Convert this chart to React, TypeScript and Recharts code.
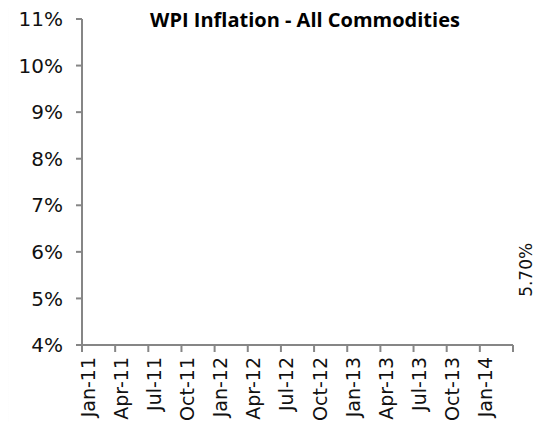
import React from "react";
import { LabelList, Line, LineChart, XAxis, YAxis } from "recharts";

const title = "WPI Inflation - All Commodities";
const monthNames = ["Jan", "Feb", "Mar", "Apr", "May", "Jun", "Jul", "Aug", "Sep", "Oct", "Nov", "Dec"];
const tickLabels = ["Jan-11", "Apr-11", "Jul-11", "Oct-11", "Jan-12", "Apr-12", "Jul-12", "Oct-12", "Jan-13", "Apr-13", "Jul-13", "Oct-13", "Jan-14"];
const pointMonths = ["Mar-14"];
const wpiValues = [5.7];
const yTicks = [4, 5, 6, 7, 8, 9, 10, 11];

const W = 546;
const H = 430;
const M = { top: 19, right: 33, bottom: 0, left: 0 };
const Y_AXIS_W = 82;
const X_AXIS_H = 85;
const MONTHS = 39;
const AXIS = "#868686";
const FONT = "'DejaVu Sans', sans-serif";

// month index counted from Jan-11
const monthIndex = (label: string) => {
  const [m, y] = label.split("-");
  return (Number(y) - 11) * 12 + monthNames.indexOf(m);
};

const data = pointMonths.map((m, i) => ({ x: monthIndex(m) + 0.5, wpi: wpiValues[i] }));
const xTicks = [...tickLabels.map(monthIndex), MONTHS];
const halfMonth = (W - M.right - Y_AXIS_W) / MONTHS / 2;

function MonthTick(props: any) {
  const { x, y, payload } = props;
  const idx = xTicks.indexOf(payload.value);
  if (idx < 0 || idx >= tickLabels.length) return null;
  const cx = x + halfMonth;
  return (
    <text
      x={cx}
      y={y}
      transform={`rotate(-90, ${cx}, ${y})`}
      textAnchor="end"
      dominantBaseline="central"
      fill="#111"
      fontSize={19}
      fontFamily={FONT}
    >
      {tickLabels[idx]}
    </text>
  );
}

function ValueLabel(props: any) {
  const { x, y, value } = props;
  const cx = x + 19;
  const cy = y + 4;
  return (
    <text
      x={cx}
      y={cy}
      transform={`rotate(-90, ${cx}, ${cy})`}
      textAnchor="middle"
      dominantBaseline="central"
      fill="#111"
      fontSize={17}
      fontFamily={FONT}
    >
      {`${Number(value).toFixed(2)}%`}
    </text>
  );
}

export default function App() {
  return (
    <div
      style={{
        position: "relative",
        width: W,
        height: H,
        margin: -8,
        overflow: "hidden",
        background: "linear-gradient(to right, #e4e4e4 0px, #f4f4f4 5px, #ffffff 9px)",
      }}
    >
      <div
        style={{
          position: "absolute",
          top: 6,
          left: 0,
          width: 610,
          textAlign: "center",
          fontFamily: "'Open Sans', sans-serif",
          fontWeight: 700,
          fontSize: 20,
          color: "#000",
        }}
      >
        {title}
      </div>
      <LineChart width={W} height={H} data={data} margin={M}>
        <XAxis
          dataKey="x"
          type="number"
          domain={[0, MONTHS]}
          ticks={xTicks}
          interval={0}
          height={X_AXIS_H}
          axisLine={{ stroke: AXIS, strokeWidth: 2 }}
          tickLine={{ stroke: AXIS, strokeWidth: 2 }}
          tickSize={7}
          tickMargin={5}
          tick={<MonthTick />}
        />
        <YAxis
          type="number"
          domain={[4, 11]}
          ticks={yTicks}
          interval={0}
          width={Y_AXIS_W}
          axisLine={{ stroke: AXIS, strokeWidth: 2 }}
          tickLine={{ stroke: AXIS, strokeWidth: 2 }}
          tickSize={6}
          tickMargin={13}
          tickFormatter={(v: number) => `${v}%`}
          tick={{ fill: "#111", fontSize: 20, fontFamily: FONT }}
        />
        <Line dataKey="wpi" stroke="none" dot={false} isAnimationActive={false}>
          <LabelList dataKey="wpi" content={<ValueLabel />} />
        </Line>
      </LineChart>
    </div>
  );
}
